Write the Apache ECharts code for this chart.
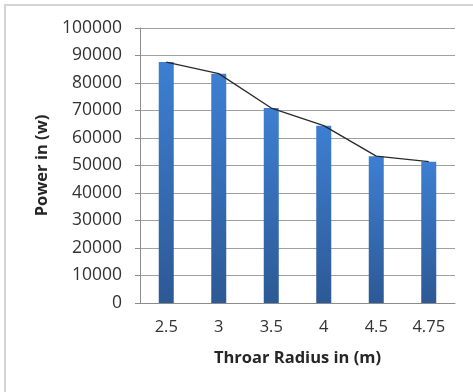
<!DOCTYPE html>
<html>
<head>
<meta charset="utf-8">
<script src="https://cdn.jsdelivr.net/npm/echarts@6/dist/echarts.min.js"></script>
<style>
  html, body { margin: 0; padding: 0; background: #fff; }
  #chart { width: 473px; height: 392px; }
</style>
</head>
<body>
<div id="chart"></div>
<script>
// Throat radius (m) vs. generated power (W)
const radii = ['2.5', '3', '3.5', '4', '4.5', '4.75'];
const power = [87600, 83400, 70900, 64500, 53400, 51400];
const yTicks = { min: 0, max: 100000, interval: 10000 };

const FONT = '"Open Sans", sans-serif';
const chart = echarts.init(document.getElementById('chart'), null, { renderer: 'canvas' });

chart.setOption({
  animation: false,
  backgroundColor: '#ffffff',
  graphic: [{
    type: 'rect',
    shape: { x: 5, y: 5, width: 520, height: 440 },
    style: { fill: 'none', stroke: '#d4d4d4', lineWidth: 2 },
    silent: true
  }],
  grid: { left: 140, right: 18, top: 28, bottom: 89 },
  xAxis: {
    type: 'category',
    data: radii,
    name: 'Throar Radius in (m)',
    nameLocation: 'middle',
    nameGap: 47,
    nameTextStyle: { fontFamily: FONT, fontWeight: 'bold', fontSize: 16.5, color: '#262626' },
    axisLine: { show: true, lineStyle: { color: '#8c8c8c', width: 1 } },
    axisTick: { show: false },
    axisLabel: { fontFamily: FONT, fontSize: 16.5, color: '#333333', margin: 16 }
  },
  yAxis: {
    type: 'value',
    min: yTicks.min,
    max: yTicks.max,
    interval: yTicks.interval,
    name: 'Power in (w)',
    nameLocation: 'middle',
    nameGap: 88,
    nameRotate: 90,
    nameTextStyle: { fontFamily: FONT, fontWeight: 'bold', fontSize: 16.5, color: '#262626' },
    axisLine: { show: true, lineStyle: { color: '#8c8c8c', width: 1 } },
    axisTick: { show: true, inside: false, length: 5, lineStyle: { color: '#8c8c8c' } },
    splitLine: { show: true, lineStyle: { color: '#a0a0a0', width: 1 } },
    axisLabel: {
      fontFamily: FONT, fontSize: 17.5, color: '#333333', margin: 18,
      formatter: (v) => String(v)
    }
  },
  series: [
    {
      type: 'bar',
      data: power,
      barWidth: 15,
      itemStyle: {
        color: new echarts.graphic.LinearGradient(0, 0, 0, 1, [
          { offset: 0, color: '#3d7fd2' },
          { offset: 1, color: '#2d5995' }
        ])
      },
      z: 2
    },
    {
      type: 'line',
      data: power,
      symbol: 'none',
      lineStyle: { color: '#2a2a2a', width: 1.3 },
      z: 3
    }
  ]
});
</script>
</body>
</html>
